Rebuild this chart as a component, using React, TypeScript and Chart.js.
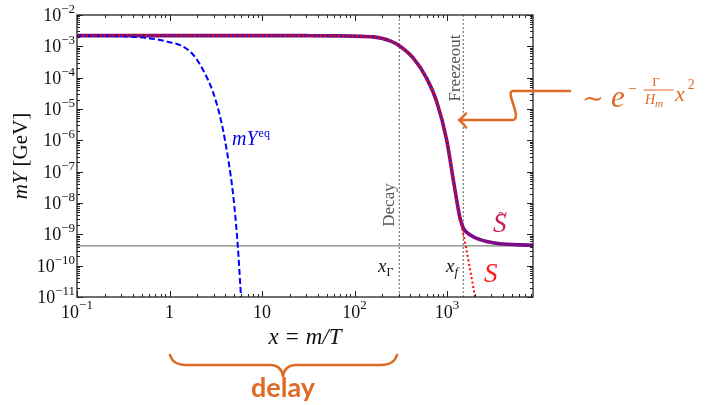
import React, { useEffect, useRef } from "react";
import { Chart, registerables } from "chart.js";
Chart.register(...registerables);

// ---- data ----
const sX = [0.1, 1, 10, 30, 70, 120, 160, 242, 305, 432, 603, 774, 993, 1170, 1384, 1597, 1832, 2010];
const sY = [2.2e-3, 2.2e-3, 2.2e-3, 2.19e-3, 2.15e-3, 2.08e-3, 2.0e-3, 1.5e-3, 1.04e-3, 4.2e-4, 9.5e-5, 1.7e-5, 1.0e-6, 5.4e-8, 3.2e-9, 4.1e-10, 4.5e-11, 1e-11];

const sTildeX = [0.1, 1, 10, 30, 70, 120, 160, 242, 305, 432, 603, 774, 993, 1170, 1384, 1440, 1503, 1633, 1928, 2275, 2690, 3743, 4420, 6000, 8500];
const sTildeY = [2.2e-3, 2.2e-3, 2.2e-3, 2.19e-3, 2.15e-3, 2.08e-3, 2.0e-3, 1.5e-3, 1.04e-3, 4.2e-4, 9.5e-5, 1.7e-5, 1.0e-6, 5.4e-8, 3.2e-9, 2.2e-9, 1.55e-9, 1.15e-9, 8.3e-10, 6.8e-10, 5.9e-10, 5.0e-10, 4.8e-10, 4.6e-10, 4.5e-10];

const eqX = [0.1, 0.3, 0.52, 0.79, 1.0, 1.3, 1.81, 2.32, 2.98, 3.66, 4.33, 4.9, 5.46, 5.93];
const eqY = [2.2e-3, 2.1e-3, 1.9e-3, 1.6e-3, 1.35e-3, 1.1e-3, 5.3e-4, 1.7e-4, 3.2e-5, 3.5e-6, 2.3e-7, 1.6e-8, 4.6e-10, 1e-11];

const xDecay = 305;
const xFreeze = 1500;
const yFloor = 4.3e-10;
const sSplitX = 1384;

const xMin = 0.1;
const xMax = 8500;
const yMin = 1e-11;
const yMax = 1e-2;

const xTickExps = [-1, 0, 1, 2, 3];
const xTickBase = ["10", "1", "10", "10", "10"];
const xTickSup = ["−1", "", "", "2", "3"];
const yTickExps = [-2, -3, -4, -5, -6, -7, -8, -9, -10, -11];

// ---- styling ----
const SERIF = '"Liberation Serif", "DejaVu Serif", serif';
const ORANGE = "#de6a26";
const f = (size: number, style = "") => `${style} ${size}px ${SERIF}`.trim();

type Seg = { t: string; font: string; dy?: number; color?: string; gap?: number };

function drawSeq(ctx: CanvasRenderingContext2D, x: number, y: number, segs: Seg[], align: "left" | "center" | "right", color = "#111") {
  let total = 0;
  const widths = segs.map((s) => {
    ctx.font = s.font;
    const w = ctx.measureText(s.t).width + (s.gap || 0);
    total += w;
    return w;
  });
  let cx = align === "left" ? x : align === "center" ? x - total / 2 : x - total;
  ctx.textAlign = "left";
  ctx.textBaseline = "alphabetic";
  segs.forEach((s, i) => {
    ctx.font = s.font;
    ctx.fillStyle = s.color || color;
    ctx.fillText(s.t, cx, y + (s.dy || 0));
    cx += widths[i];
  });
}

const pts = (xs: number[], ys: number[]) => xs.map((x, i) => ({ x, y: ys[i] }));

const decorPlugin = {
  id: "decor",
  afterDraw(chart: any) {
    const ctx: CanvasRenderingContext2D = chart.ctx;
    const xs = chart.scales.x;
    const ys = chart.scales.y;
    const a = chart.chartArea;
    ctx.save();

    // frame
    ctx.strokeStyle = "#222";
    ctx.lineWidth = 1.3;
    ctx.strokeRect(a.left, a.top, a.right - a.left, a.bottom - a.top);

    // ticks (inward, all four sides)
    ctx.lineWidth = 1;
    ctx.beginPath();
    for (let d = -1; d <= 4; d++) {
      for (let k = 1; k <= 9; k++) {
        const v = k * Math.pow(10, d);
        if (v < xMin * 0.999 || v > xMax) continue;
        const px = Math.round(xs.getPixelForValue(v)) + 0.5;
        const len = k === 1 ? 6 : 3;
        ctx.moveTo(px, a.bottom);
        ctx.lineTo(px, a.bottom - len);
        ctx.moveTo(px, a.top);
        ctx.lineTo(px, a.top + len);
      }
    }
    for (let d = -11; d <= -2; d++) {
      for (let k = 1; k <= 9; k++) {
        const v = k * Math.pow(10, d);
        if (v < yMin * 0.999 || v > yMax * 1.001) continue;
        const py = Math.round(ys.getPixelForValue(v)) + 0.5;
        const len = k === 1 ? 6 : 3;
        ctx.moveTo(a.left, py);
        ctx.lineTo(a.left + len, py);
        ctx.moveTo(a.right, py);
        ctx.lineTo(a.right - len, py);
      }
    }
    ctx.stroke();

    // y tick labels
    yTickExps.forEach((e) => {
      const py = ys.getPixelForValue(Math.pow(10, e));
      drawSeq(ctx, 75, py + 6, [
        { t: "10", font: f(18) },
        { t: "−" + -e, font: f(13), dy: -8 },
      ], "right");
    });
    // x tick labels
    xTickExps.forEach((e, i) => {
      const px = xs.getPixelForValue(Math.pow(10, e));
      const segs: Seg[] = [{ t: xTickBase[i], font: f(18) }];
      if (xTickSup[i]) segs.push({ t: xTickSup[i], font: f(13), dy: -9 });
      drawSeq(ctx, px, 318, segs, "center");
    });

    // axis titles
    drawSeq(ctx, 305, 344, [
      { t: "x", font: f(23, "italic"), gap: 7 },
      { t: "=", font: f(23), gap: 7 },
      { t: "m/T", font: f(23, "italic") },
    ], "center");
    ctx.save();
    ctx.translate(27, 156);
    ctx.rotate(-Math.PI / 2);
    drawSeq(ctx, 0, 0, [
      { t: "mY", font: f(21, "italic"), gap: 6 },
      { t: "[GeV]", font: f(21) },
    ], "center");
    ctx.restore();

    // annotations: vertical labels
    ctx.save();
    ctx.translate(394, 205);
    ctx.rotate(-Math.PI / 2);
    drawSeq(ctx, 0, 0, [{ t: "Decay", font: f(17) }], "center", "#555");
    ctx.restore();
    ctx.save();
    ctx.translate(460, 68);
    ctx.rotate(-Math.PI / 2);
    drawSeq(ctx, 0, 0, [{ t: "Freezeout", font: f(17) }], "center", "#555");
    ctx.restore();

    // x_Gamma, x_f
    drawSeq(ctx, 378, 272, [
      { t: "x", font: f(19, "italic") },
      { t: "Γ", font: f(12), dy: 4 },
    ], "left");
    drawSeq(ctx, 446, 272, [
      { t: "x", font: f(19, "italic") },
      { t: "f", font: f(13, "italic"), dy: 4 },
    ], "left");

    // mY^eq
    drawSeq(ctx, 232, 145, [
      { t: "mY", font: f(20, "italic"), gap: 1 },
      { t: "eq", font: f(12), dy: -8 },
    ], "left", "#0000ee");

    // S tilde and S
    drawSeq(ctx, 493, 232, [{ t: "S", font: f(27, "italic") }], "left", "#c81e5a");
    drawSeq(ctx, 498, 219, [{ t: "~", font: f(17) }], "left", "#c81e5a");
    drawSeq(ctx, 484, 282, [{ t: "S", font: f(27, "italic") }], "left", "#ff1a1a");

    // orange arrow
    ctx.strokeStyle = ORANGE;
    ctx.lineWidth = 2.5;
    ctx.lineCap = "round";
    ctx.lineJoin = "round";
    ctx.beginPath();
    ctx.moveTo(570, 91);
    ctx.lineTo(513, 91);
    ctx.bezierCurveTo(504, 91, 524, 120, 512, 120);
    ctx.lineTo(460, 120);
    ctx.stroke();
    ctx.beginPath();
    ctx.moveTo(466, 113.5);
    ctx.quadraticCurveTo(462, 118, 459, 120);
    ctx.quadraticCurveTo(462, 122, 466, 127.5);
    ctx.stroke();

    // formula ~ e^{-Γ/H_m x^2}
    drawSeq(ctx, 582, 107, [{ t: "∼", font: f(26) }], "left", ORANGE);
    drawSeq(ctx, 611, 107, [{ t: "e", font: f(31, "italic") }], "left", ORANGE);
    drawSeq(ctx, 628, 94, [{ t: "−", font: f(16) }], "left", ORANGE);
    drawSeq(ctx, 656, 86, [{ t: "Γ", font: f(13) }], "center", ORANGE);
    ctx.lineWidth = 1;
    ctx.beginPath();
    ctx.moveTo(644, 90);
    ctx.lineTo(673, 90);
    ctx.stroke();
    drawSeq(ctx, 645, 104, [
      { t: "H", font: f(14, "italic") },
      { t: "m", font: f(11, "italic"), dy: 3 },
    ], "left", ORANGE);
    drawSeq(ctx, 675, 101, [
      { t: "x", font: f(22, "italic"), gap: 3 },
      { t: "2", font: f(14), dy: -12 },
    ], "left", ORANGE);

    // brace + "delay"
    ctx.lineWidth = 2.5;
    ctx.beginPath();
    ctx.moveTo(170, 355);
    ctx.quadraticCurveTo(173, 365, 186, 365);
    ctx.lineTo(270, 365);
    ctx.quadraticCurveTo(281, 365, 283, 376);
    ctx.quadraticCurveTo(285, 365, 296, 365);
    ctx.lineTo(381, 365);
    ctx.quadraticCurveTo(394, 365, 397, 355);
    ctx.stroke();
    ctx.font = 'bold 27px Lato, "Open Sans", sans-serif';
    ctx.fillStyle = ORANGE;
    ctx.textAlign = "center";
    ctx.textBaseline = "alphabetic";
    ctx.fillText("delay", 283, 397);

    ctx.restore();
  },
};

export default function App() {
  const ref = useRef<HTMLCanvasElement | null>(null);
  useEffect(() => {
    if (!ref.current) return;
    const common = { pointRadius: 0, fill: false, cubicInterpolationMode: "monotone" as const };
    const chart = new Chart(ref.current, {
      type: "line",
      data: {
        datasets: [
          { ...common, label: "S", data: pts(sX, sY), borderColor: "#ff0000", borderWidth: 2, borderDash: [2, 2.5] },
          { ...common, label: "mY_eq", data: pts(eqX, eqY), borderColor: "#0000ff", borderWidth: 2, borderDash: [6, 3] },
          { ...common, label: "S core", data: pts(sX, sY).filter((p) => p.x <= sSplitX), borderColor: "#2a2ab0", borderWidth: 1.2 },
          { ...common, label: "S tilde", data: pts(sTildeX, sTildeY), borderColor: "#7d0a87", borderWidth: 3.6 },
          { ...common, label: "floor", data: [{ x: xMin, y: yFloor }, { x: xMax, y: yFloor }], borderColor: "#808080", borderWidth: 1.2 },
          { ...common, label: "decay", data: [{ x: xDecay, y: yMin }, { x: xDecay, y: yMax }], borderColor: "#777", borderWidth: 1.2, borderDash: [2, 2] },
          { ...common, label: "freeze", data: [{ x: xFreeze, y: yMin }, { x: xFreeze, y: yMax }], borderColor: "#777", borderWidth: 1.2, borderDash: [2, 2] },
        ],
      },
      options: {
        responsive: false,
        animation: false,
        devicePixelRatio: 1,
        parsing: true,
        layout: { padding: { left: 77, top: 15, right: 175, bottom: 108 } },
        plugins: { legend: { display: false }, tooltip: { enabled: false } },
        events: [],
        scales: {
          x: { type: "logarithmic", min: xMin, max: xMax, display: false },
          y: { type: "logarithmic", min: yMin, max: yMax, display: false },
        },
      },
      plugins: [decorPlugin],
    });
    return () => chart.destroy();
  }, []);
  return (
    <div style={{ position: "absolute", left: 0, top: 0, width: 708, height: 405, background: "#fff" }}>
      <canvas ref={ref} width={708} height={405} style={{ display: "block" }} />
    </div>
  );
}
